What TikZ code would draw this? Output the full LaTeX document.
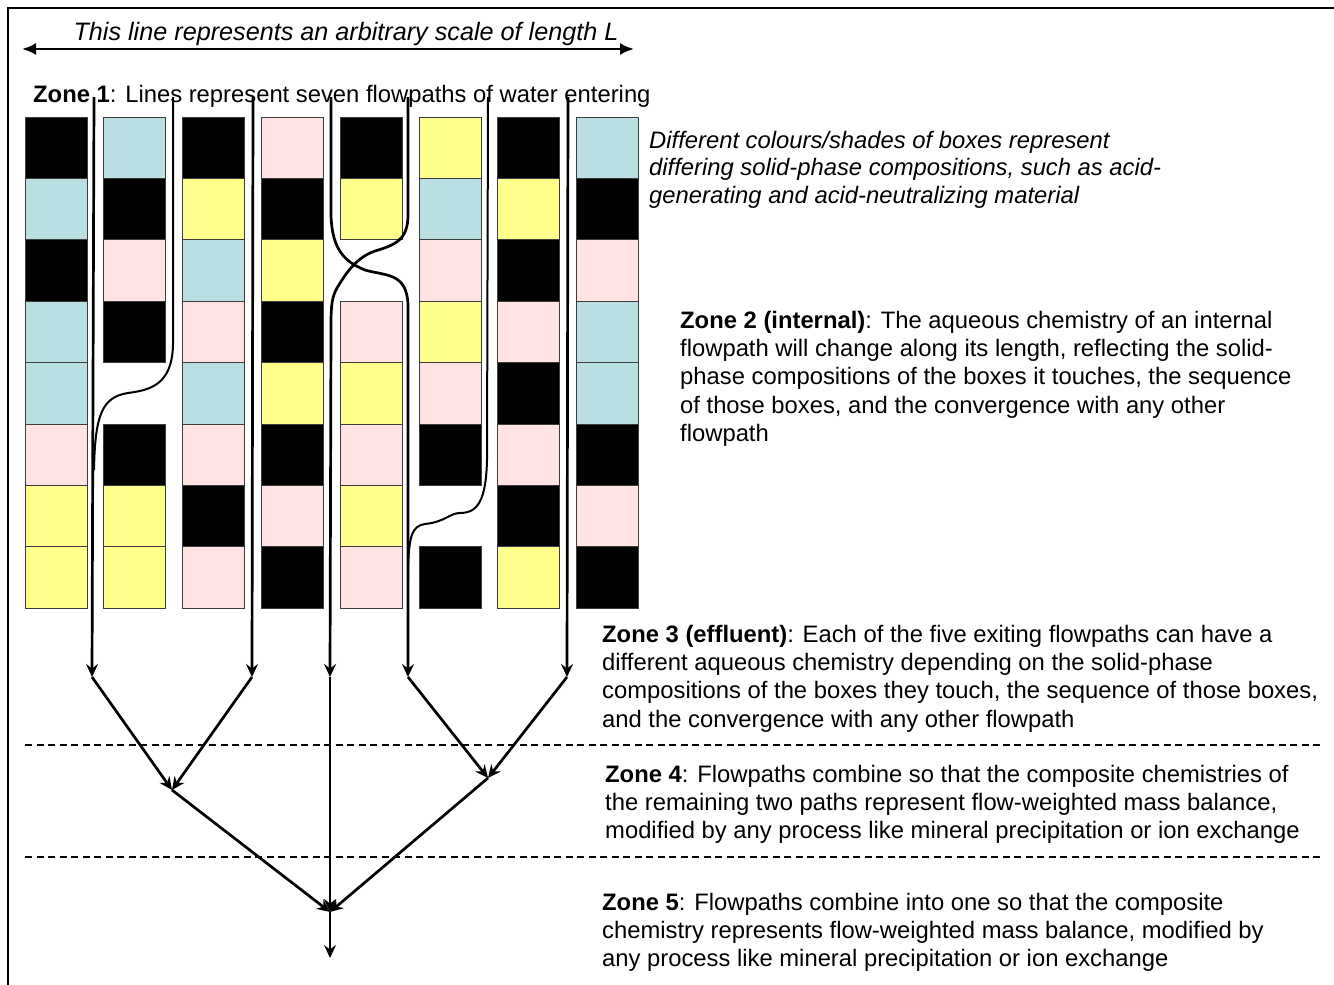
\documentclass[tikz,border=0pt]{standalone}
\usepackage{fontspec}
\setmainfont{Liberation Sans}
\usetikzlibrary{arrows.meta}

\definecolor{boxk}{RGB}{0,0,0}
\definecolor{boxb}{RGB}{185,223,226}
\definecolor{boxp}{RGB}{255,226,226}
\definecolor{boxy}{RGB}{255,255,140}
\definecolor{boxedge}{RGB}{60,60,60}

\begin{document}
\begin{tikzpicture}[x=1pt, y=-1pt,
    cell/.style={draw=boxedge, line width=1pt, minimum width=62pt, minimum height=61.4pt, inner sep=0pt},
    flow/.style={line width=2.7pt},
    thinflow/.style={line width=2pt},
    drain/.style={line width=2.7pt, -{Stealth[length=13pt,width=12pt,inset=4.5pt]}},
    zone/.style={anchor=north west, align=left, inner sep=0pt, font=\fontsize{23.8}{28.2}\selectfont},
    zonesep/.style={line width=1.7pt, dash pattern=on 7pt off 4.5pt}]
    \useasboundingbox (0,0) rectangle (1334,985);

    % Frame
    \draw[line width=1.2pt] (8,985) -- (8,8) -- (1334,8);

    % Scale
    \coordinate (scaleL) at (22,49);
    \coordinate (scaleR) at (634,49);
    \draw[line width=2.6pt, {Latex[length=14pt,width=12pt]}-{Latex[length=14pt,width=12pt]}] (scaleL) -- (scaleR);
    \node[anchor=base, inner sep=0pt, font=\fontsize{25.2}{29}\selectfont\itshape] (scaletext) at (346,40)
        {This line represents an arbitrary scale of length L};

    % Boxes (k black, b blue, p pink, y yellow, n gap)
    \def\gapmark{n}
    \foreach \col/\stack in {1/{k,b,k,b,b,p,y,y}, 2/{b,k,p,k,n,k,y,y},
                             3/{k,y,b,p,b,p,k,p}, 4/{p,k,y,k,y,k,p,k},
                             5/{k,y,n,p,y,p,y,p}, 6/{y,b,p,y,p,k,n,k},
                             7/{k,y,k,p,k,p,k,y}, 8/{b,k,p,b,b,k,p,k}} {
        \foreach \c [count=\row] in \stack {
            \ifx\c\gapmark\else
                \node[cell, fill=box\c] (box-\col-\row) at ({56+78.8*(\col-1)}, {147.7+61.4*(\row-1)}) {};
            \fi
        }
    }

    % Flowpaths
    \coordinate (in1) at (94,97);
    \coordinate (in2) at (173,97);
    \coordinate (in3) at (253,97);
    \coordinate (in4) at (331,97);
    \coordinate (in5) at (408,97);
    \coordinate (in6) at (488,97);
    \coordinate (in7) at (568,97);
    \coordinate (merge2) at (94,470);
    \coordinate (merge6) at (408,580);

    \coordinate (out1) at (92,677);
    \coordinate (out2) at (252,677);
    \coordinate (out3) at (330,677);
    \coordinate (out4) at (408,677);
    \coordinate (out5) at (567,677);
    \coordinate (mix1) at (172,790);
    \coordinate (mix2) at (488,778);
    \coordinate (mixall) at (330,912);
    \coordinate (exit) at (330,958);

    \draw[drain] (in1) -- (out1);
    \draw[thinflow] (in2) -- (173,345) .. controls (172,385) and (150,390) .. (128,393)
        .. controls (102,397) and (95,415) .. (merge2);
    \draw[drain] (in3) -- (out2);
    \draw[drain] (in4) -- (331,215) .. controls (332,250) and (345,262) .. (365,270)
        .. controls (385,276) and (407,272) .. (408,305) -- (out4);
    \draw[drain] (in5) -- (408,215) .. controls (408,240) and (395,245) .. (375,251)
        .. controls (355,258) and (345,275) .. (337,288)
        .. controls (332,297) and (331,305) .. (331,325) -- (out3);
    \draw[thinflow] (in6) -- (487,460) .. controls (486,500) and (478,513) .. (460,513)
        .. controls (450,513) and (445,522) .. (425,524)
        .. controls (412,526) and (408,535) .. (merge6);
    \draw[drain] (in7) -- (out5);

    % Combining
    \draw[drain] (out1) -- (mix1);
    \draw[drain] (out2) -- (mix1);
    \draw[drain] (out4) -- (mix2);
    \draw[drain] (out5) -- (mix2);
    \draw[drain] (mix1) -- (mixall);
    \draw[drain] (mix2) -- (mixall);
    \draw[drain] (out3) -- (mixall);
    \draw[drain] (mixall) -- (exit);

    % Zone separators
    \coordinate (sep1L) at (25,745);
    \coordinate (sep1R) at (1320,745);
    \coordinate (sep2L) at (25,857);
    \coordinate (sep2R) at (1320,857);
    \draw[zonesep] (sep1L) -- (sep1R);
    \draw[zonesep] (sep2L) -- (sep2R);

    % Texts
    \node[anchor=base west, inner sep=0pt, font=\fontsize{23.8}{28}\selectfont] (zone1) at (33,102)
        {\textbf{Zone 1}: Lines represent seven flowpaths of water entering};
    \node[zone, font=\fontsize{23.8}{27.5}\selectfont\itshape] (legend) at (649,131)
        {Different colours/shades of boxes represent\\
         differing solid-phase compositions, such as acid-\\
         generating and acid-neutralizing material};
    \node[zone] (zone2) at (680,311)
        {\textbf{Zone 2 (internal)}: The aqueous chemistry of an internal\\
         flowpath will change along its length, reflecting the solid-\\
         phase compositions of the boxes it touches, the sequence\\
         of those boxes, and the convergence with any other\\
         flowpath};
    \node[zone] (zone3) at (602,625)
        {\textbf{Zone 3 (effluent)}: Each of the five exiting flowpaths can have a\\
         different aqueous chemistry depending on the solid-phase\\
         compositions of the boxes they touch, the sequence of those boxes,\\
         and the convergence with any other flowpath};
    \node[zone] (zone4) at (605,765)
        {\textbf{Zone 4}: Flowpaths combine so that the composite chemistries of\\
         the remaining two paths represent flow-weighted mass balance,\\
         modified by any process like mineral precipitation or ion exchange};
    \node[zone] (zone5) at (602,893)
        {\textbf{Zone 5}: Flowpaths combine into one so that the composite\\
         chemistry represents flow-weighted mass balance, modified by\\
         any process like mineral precipitation or ion exchange};
\end{tikzpicture}
\end{document}
